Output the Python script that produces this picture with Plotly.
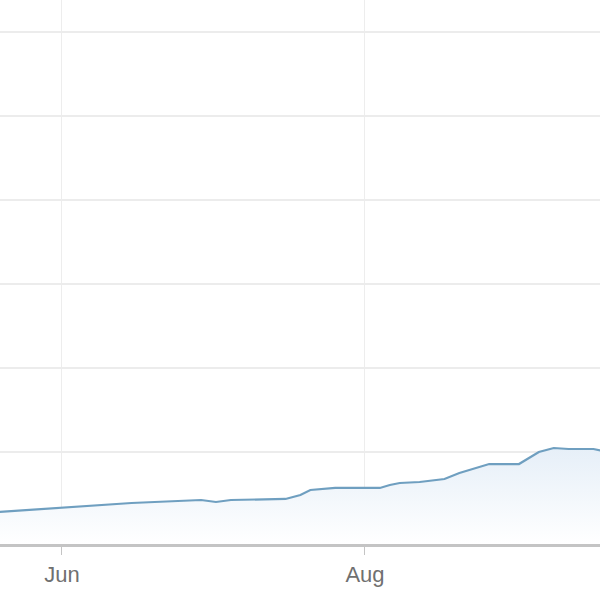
import plotly.graph_objects as go

# Data (value units are arbitrary; 100 units per gridline step)
dates = [
    "2023-05-19", "2023-06-01", "2023-06-09", "2023-06-15", "2023-06-29",
    "2023-07-02", "2023-07-05", "2023-07-16", "2023-07-19", "2023-07-21",
    "2023-07-26", "2023-08-04", "2023-08-06", "2023-08-08", "2023-08-12",
    "2023-08-15", "2023-08-17", "2023-08-20", "2023-08-24", "2023-08-26",
    "2023-09-01", "2023-09-02", "2023-09-05", "2023-09-08", "2023-09-11",
    "2023-09-16", "2023-09-18",
]
values = [
    38.1, 42.9, 46.4, 48.8, 52.4,
    50.0, 52.4, 53.6, 58.3, 64.3,
    66.7, 66.7, 70.2, 72.6, 73.8,
    76.2, 77.4, 84.5, 91.7, 95.2,
    95.2, 98.8, 109.5, 114.3, 113.1,
    113.1, 110.7,
]
grid_values = [109.5, 209.5, 309.5, 409.5, 509.5, 609.5]
x_range = ["2023-05-19 12:30", "2023-09-17 07:30"]
y_range = [0, 647.6]

fig = go.Figure()
fig.add_trace(go.Scatter(
    x=dates, y=values, mode="lines",
    line=dict(color="#6f9fc0", width=2.2),
    fill="tozeroy",
    fillgradient=dict(type="vertical",
                      colorscale=[[0, "rgba(255,255,255,1)"], [1, "rgba(230,239,248,1)"]]),
    hoverinfo="skip",
))

fig.update_layout(
    width=600, height=600,
    margin=dict(l=0, r=0, t=0, b=56),
    paper_bgcolor="white", plot_bgcolor="white",
    showlegend=False,
    font=dict(family="Liberation Sans, Arial, sans-serif", size=22, color="#707070"),
)
fig.update_xaxes(
    range=x_range, type="date",
    tickformat="%b", dtick="M2", tick0="2023-06-01",
    showgrid=True, gridcolor="#ededed", gridwidth=1,
    showline=True, linecolor="#c4c4c4", linewidth=2.5,
    ticks="outside", ticklen=8, tickcolor="#c4c4c4", tickwidth=1.2,
    ticklabelstandoff=1,
)
fig.update_yaxes(
    range=y_range, tickmode="array", tickvals=grid_values,
    showticklabels=False, showgrid=True, gridcolor="#ececec", gridwidth=1.5,
    zeroline=False, showline=False,
)
fig.write_html(
    "out.html",
    config={"displayModeBar": False},
    post_script="document.body.style.margin='0';",
)
